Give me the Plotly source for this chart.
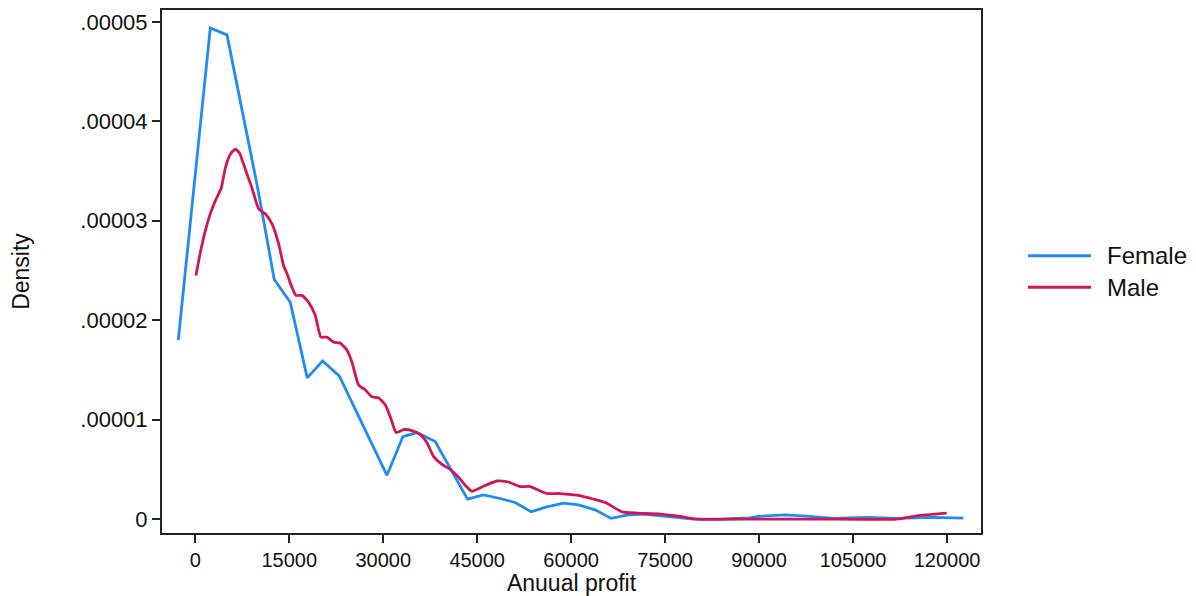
import plotly.graph_objects as go

# Female (blue) density estimate: x = annual profit, y = density
female_x = [-2713, 2394, 5059, 7979, 10053, 12606, 15159, 17871, 20319, 22978,
            27765, 30600, 33140, 35376, 38297, 43455, 46000, 48670, 51063, 53616,
            56120, 58770, 61170, 63830, 66380, 68890, 71540, 74730, 79520, 83250,
            88560, 89890, 94150, 98130, 101850, 107180, 111970, 117810, 122600]
female_y = [1.80e-5, 4.94e-5, 4.87e-5, 3.95e-5, 3.30e-5, 2.41e-5, 2.18e-5, 1.42e-5, 1.59e-5, 1.44e-5,
            0.82e-5, 0.44e-5, 0.83e-5, 0.87e-5, 0.78e-5, 0.20e-5, 0.243e-5, 0.207e-5, 0.167e-5, 0.073e-5,
            0.123e-5, 0.16e-5, 0.143e-5, 0.093e-5, 0.007e-5, 0.04e-5, 0.05e-5, 0.033e-5, 0.0, 0.0,
            0.013e-5, 0.027e-5, 0.043e-5, 0.027e-5, 0.007e-5, 0.017e-5, 0.007e-5, 0.017e-5, 0.01e-5]

# Male (red) density estimate
male_x = [100, 800, 1600, 2390, 3190, 4150, 4790, 5590, 6380, 7070, 7710, 8250, 9050,
          10110, 11170, 12240, 13300, 14090, 14630, 15430, 16070, 17020, 18090, 19150,
          20050, 21010, 22070, 23140, 24200, 25000, 26060, 27130, 28190, 29250, 30320,
          31120, 32070, 33240, 34580, 35900, 36970, 38030, 39370, 40690, 42020, 43240,
          44150, 46000, 48140, 50000, 51860, 53460, 56120, 58240, 60900, 63560, 65690,
          68090, 70480, 74200, 77390, 80050, 90000, 100000, 111970, 115170, 119950]
male_y = [2.45e-5, 2.68e-5, 2.90e-5, 3.07e-5, 3.20e-5, 3.33e-5, 3.53e-5, 3.67e-5, 3.72e-5, 3.68e-5, 3.57e-5, 3.47e-5, 3.33e-5,
          3.12e-5, 3.07e-5, 2.97e-5, 2.77e-5, 2.55e-5, 2.47e-5, 2.33e-5, 2.25e-5, 2.25e-5, 2.18e-5, 2.05e-5,
          1.83e-5, 1.83e-5, 1.78e-5, 1.77e-5, 1.70e-5, 1.58e-5, 1.35e-5, 1.30e-5, 1.23e-5, 1.22e-5, 1.15e-5,
          1.03e-5, 0.87e-5, 0.90e-5, 0.89e-5, 0.85e-5, 0.77e-5, 0.63e-5, 0.55e-5, 0.50e-5, 0.42e-5, 0.33e-5,
          0.28e-5, 0.33e-5, 0.383e-5, 0.373e-5, 0.327e-5, 0.327e-5, 0.257e-5, 0.257e-5, 0.24e-5, 0.20e-5, 0.16e-5,
          0.073e-5, 0.06e-5, 0.05e-5, 0.027e-5, 0.0, 0.0, 0.0, 0.0, 0.033e-5, 0.06e-5]

x_ticks = [0, 15000, 30000, 45000, 60000, 75000, 90000, 105000, 120000]
x_tick_labels = ["0", "15000", "30000", "45000", "60000", "75000", "90000", "105000", "120000"]
y_ticks = [0, 1e-5, 2e-5, 3e-5, 4e-5, 5e-5]
y_tick_labels = ["0", ".00001", ".00002", ".00003", ".00004", ".00005"]

series_names = ["Female", "Male"]
blue = "#1F8BF5"
red = "#D21556"
font_family = "Liberation Sans, Arial, sans-serif"

fig = go.Figure()
fig.add_trace(go.Scatter(x=female_x, y=female_y, mode="lines", name=series_names[0],
                         line=dict(color=blue, width=2.8), showlegend=False))
fig.add_trace(go.Scatter(x=male_x, y=male_y, mode="lines", name=series_names[1],
                         line=dict(color=red, width=2.8, shape="spline", smoothing=0.5),
                         showlegend=False))

# manual legend
legend_y = [0.5303, 0.4697]
for name, col, ly in zip(series_names, [blue, red], legend_y):
    fig.add_shape(type="line", xref="paper", yref="paper", x0=1.0574, x1=1.1343,
                  y0=ly, y1=ly, line=dict(color=col, width=3))
    fig.add_annotation(xref="paper", yref="paper", x=1.152, y=ly, text=name,
                       showarrow=False, xanchor="left", yanchor="middle",
                       font=dict(family=font_family, size=24, color="#111"))

# page body has an 8px margin, so the figure is offset by 8px
fig.update_layout(
    width=1188, height=588,
    margin=dict(l=154, r=215, t=0, b=62),
    paper_bgcolor="white", plot_bgcolor="white",
    font=dict(family=font_family, color="#111"),
)
fig.update_xaxes(range=[-5314, 125425], tickvals=x_ticks, ticktext=x_tick_labels,
                 showgrid=False, zeroline=False, showline=True, mirror=True,
                 linecolor="#222", linewidth=2, ticks="outside", ticklen=8,
                 tickwidth=1.5, tickcolor="#222", tickfont=dict(size=20),
                 title=dict(text="Anuual profit", font=dict(size=23), standoff=9))
fig.update_yaxes(range=[-0.14e-5, 5.12e-5], tickvals=y_ticks, ticktext=y_tick_labels,
                 showgrid=False, zeroline=False, showline=True, mirror=True,
                 linecolor="#222", linewidth=2, ticks="outside", ticklen=8,
                 tickwidth=1.5, tickcolor="#222", tickfont=dict(size=22),
                 title=dict(text="Density", font=dict(size=23), standoff=44))

fig.write_html("out.html")
